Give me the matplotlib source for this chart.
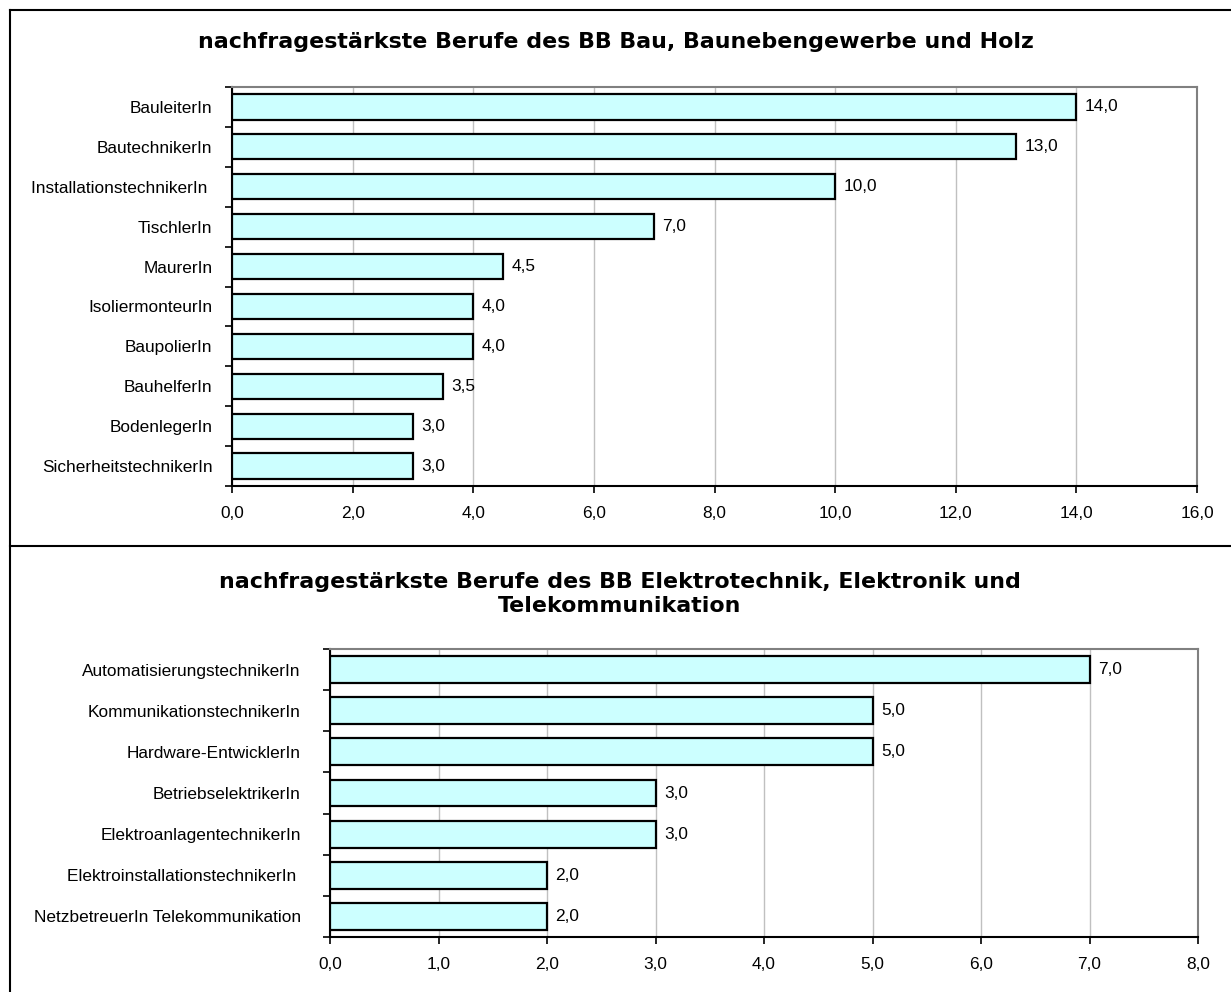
import matplotlib
matplotlib.use("Agg")
import matplotlib.pyplot as plt
from matplotlib.lines import Line2D
from matplotlib.ticker import FuncFormatter, FixedLocator

plt.rcParams['font.family'] = ['Liberation Sans', 'DejaVu Sans']

bau_berufe = ["BauleiterIn", "BautechnikerIn", "InstallationstechnikerIn ",
              "TischlerIn", "MaurerIn", "IsoliermonteurIn", "BaupolierIn",
              "BauhelferIn", "BodenlegerIn", "SicherheitstechnikerIn"]
bau_werte = [14.0, 13.0, 10.0, 7.0, 4.5, 4.0, 4.0, 3.5, 3.0, 3.0]

elektro_berufe = ["AutomatisierungstechnikerIn", "KommunikationstechnikerIn",
                  "Hardware-EntwicklerIn", "BetriebselektrikerIn",
                  "ElektroanlagentechnikerIn", "ElektroinstallationstechnikerIn ",
                  "NetzbetreuerIn Telekommunikation"]
elektro_werte = [7.0, 5.0, 5.0, 3.0, 3.0, 2.0, 2.0]

W, H = 1231, 992
FS = 12.4
fig = plt.figure(figsize=(W / 100, H / 100), dpi=100)

def komma(v, pos=None):
    return f"{v:.1f}".replace(".", ",")

def px_axes(left, top, right, bottom):
    return fig.add_axes([left / W, 1 - bottom / H, (right - left) / W, (bottom - top) / H])

def draw(ax, berufe, werte, xmax, step, bar_h, label_pad):
    n = len(berufe)
    pos = list(range(n))
    ax.barh(pos, werte, height=bar_h, color="#CCFFFF", edgecolor="black",
            linewidth=1.6, zorder=3)
    ax.set_ylim(n - 0.5, -0.5)
    ax.set_xlim(0, xmax)
    ax.set_xticks([i * step for i in range(int(round(xmax / step)) + 1)])
    ax.xaxis.set_major_formatter(FuncFormatter(komma))
    ax.set_yticks(pos)
    ax.set_yticklabels(berufe)
    ax.yaxis.set_minor_locator(FixedLocator([i - 0.5 for i in range(n + 1)]))
    ax.tick_params(axis="y", which="major", length=0, pad=label_pad, labelsize=FS)
    ax.tick_params(axis="y", which="minor", length=5, width=1.2)
    ax.tick_params(axis="x", length=5, width=1.2, pad=9.5, labelsize=FS)
    ax.grid(axis="x", color="#c0c0c0", linewidth=1, zorder=0)
    ax.set_axisbelow(True)
    for s in ("top", "right"):
        ax.spines[s].set_color("#808080")
        ax.spines[s].set_linewidth(1.5)
    for s in ("left", "bottom"):
        ax.spines[s].set_color("black")
        ax.spines[s].set_linewidth(1.5)
    for y, v in zip(pos, werte):
        ax.annotate(komma(v), (v, y), xytext=(6, 0), textcoords="offset points",
                    va="center", ha="left", fontsize=FS)

ax1 = px_axes(232, 87, 1197, 486)
draw(ax1, bau_berufe, bau_werte, 16, 2, 0.63, 14)

ax2 = px_axes(330, 649, 1198, 937)
draw(ax2, elektro_berufe, elektro_werte, 8, 1, 0.65, 21)

titel = dict(ha="center", va="center", fontsize=15.9, fontweight="bold",
             family="DejaVu Sans")
fig.text(616 / W, 1 - 42 / H,
         "nachfragestärkste Berufe des BB Bau, Baunebengewerbe und Holz", **titel)
fig.text(620 / W, 1 - 594 / H,
         "nachfragestärkste Berufe des BB Elektrotechnik, Elektronik und\nTelekommunikation",
         linespacing=1.3, **titel)

# outer chart frames
for xs, ys in [([10, W], [10, 10]), ([10, 10], [10, H]), ([10, W], [546, 546])]:
    fig.add_artist(Line2D([x / W for x in xs], [1 - y / H for y in ys],
                          color="black", linewidth=1.5, transform=fig.transFigure))

fig.savefig("out.png", dpi=100)
